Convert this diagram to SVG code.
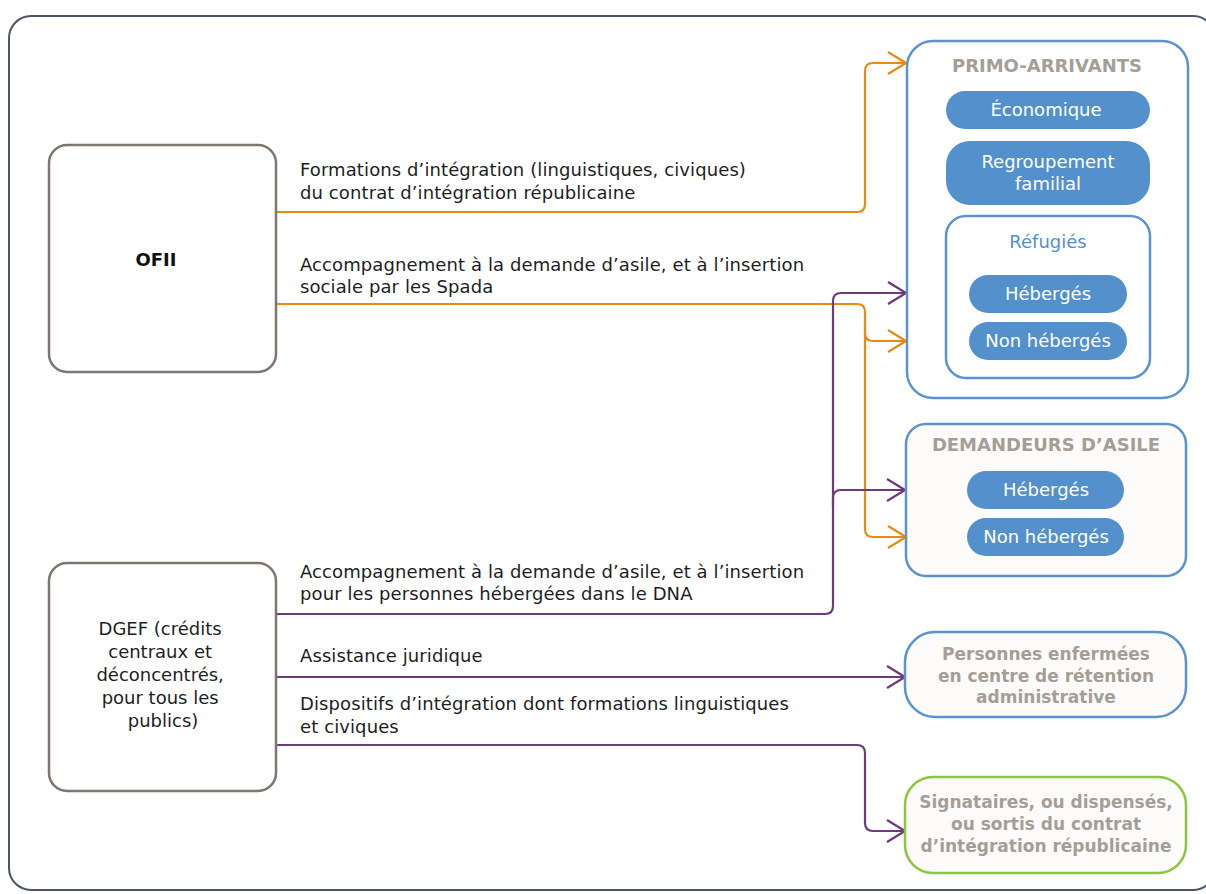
<svg xmlns="http://www.w3.org/2000/svg" width="1206" height="894" viewBox="0 0 1206 894">
<defs>
<style>
.lbl{font-family:"DejaVu Sans",sans-serif;font-size:18px;letter-spacing:0.1px;fill:#1e1e1e}
.src{fill:#fff;stroke:#7f776f;stroke-width:2.5}
.grp{fill:#fff;stroke:#5a93cf;stroke-width:2.5}
.ttl{font-family:"DejaVu Sans",sans-serif;font-size:18px;font-weight:700;fill:#a59e97;text-anchor:middle}
.ttl2{font-family:"DejaVu Sans",sans-serif;font-size:17px;font-weight:700;fill:#a59e97;text-anchor:middle}
.pill{fill:#5490cc}
.pt{font-family:"DejaVu Sans",sans-serif;font-size:18px;fill:#fff;text-anchor:middle}
.or{fill:none;stroke:#ea8a10;stroke-width:2.2}
.pu{fill:none;stroke:#6f3a7d;stroke-width:2.2}
</style>
<marker id="ao" viewBox="0 0 20 24" refX="19" refY="12" markerWidth="20" markerHeight="24" markerUnits="userSpaceOnUse" orient="auto"><path d="M1,1 L19,12 L1,23" fill="none" stroke="#ea8a10" stroke-width="2.2"/></marker>
<marker id="ap" viewBox="0 0 20 24" refX="19" refY="12" markerWidth="20" markerHeight="24" markerUnits="userSpaceOnUse" orient="auto"><path d="M1,1 L19,12 L1,23" fill="none" stroke="#6f3a7d" stroke-width="2.2"/></marker>
</defs>
<rect x="0" y="0" width="1206" height="894" fill="#fff"/>
<rect x="9" y="16" width="1206" height="874" rx="22" fill="none" stroke="#4b5563" stroke-width="2"/>

<g id="connectors">
<path class="or" d="M276,212 H857 Q865,212 865,204 V71 Q865,63 873,63 H906" marker-end="url(#ao)"/>
<path class="or" d="M276,304 H857 Q865,304 865,312 V529 Q865,537 873,537 H906" marker-end="url(#ao)"/>
<path class="or" d="M865,325 V333 Q865,341 873,341 H906" marker-end="url(#ao)"/>
<path class="pu" d="M276,614 H825 Q833,614 833,606 V301 Q833,293 841,293 H906" marker-end="url(#ap)"/>
<path class="pu" d="M833,506 V498 Q833,490 841,490 H905" marker-end="url(#ap)"/>
<path class="pu" d="M276,677 H905" marker-end="url(#ap)"/>
<path class="pu" d="M276,745 H857 Q865,745 865,753 V823 Q865,831 873,831 H905" marker-end="url(#ap)"/>
<text class="lbl" x="300" y="176">Formations d’intégration (linguistiques, civiques)</text>
<text class="lbl" x="300" y="199">du contrat d’intégration républicaine</text>
<text class="lbl" x="300" y="271">Accompagnement à la demande d’asile, et à l’insertion</text>
<text class="lbl" x="300" y="293">sociale par les Spada</text>
<text class="lbl" x="300" y="578">Accompagnement à la demande d’asile, et à l’insertion</text>
<text class="lbl" x="300" y="600">pour les personnes hébergées dans le DNA</text>
<text class="lbl" x="300" y="662">Assistance juridique</text>
<text class="lbl" x="300" y="710">Dispositifs d’intégration dont formations linguistiques</text>
<text class="lbl" x="300" y="733">et civiques</text>
</g>

<g id="ofii">
<rect class="src" x="49" y="145" width="227" height="227" rx="18"/>
<text x="156" y="266" style="font-family:'DejaVu Sans',sans-serif;font-size:18px;font-weight:700;fill:#111" text-anchor="middle">OFII</text>
</g>

<g id="dgef">
<rect class="src" x="49" y="563" width="227" height="228" rx="18"/>
<text style="font-family:'DejaVu Sans',sans-serif;font-size:18px;fill:#1e1e1e" text-anchor="middle">
<tspan x="163" y="635">DGEF (crédits</tspan>
<tspan x="163" y="658">centraux et</tspan>
<tspan x="163" y="681">déconcentrés,</tspan>
<tspan x="163" y="704">pour tous les</tspan>
<tspan x="163" y="727">publics)</tspan>
</text>
</g>

<g id="primo">
<rect class="grp" x="907" y="41" width="281" height="357" rx="26"/>
<text class="ttl" x="1047" y="72">PRIMO-ARRIVANTS</text>
</g>
<g id="economique">
<rect class="pill" x="946" y="91" width="204" height="38" rx="19"/>
<text class="pt" x="1046" y="116">Économique</text>
</g>
<g id="regroupement">
<rect class="pill" x="946" y="141" width="204" height="64" rx="24"/>
<text class="pt" x="1048" y="168">Regroupement</text>
<text class="pt" x="1048" y="190">familial</text>
</g>
<g id="refugies">
<rect class="grp" x="946" y="216" width="204" height="162" rx="20"/>
<text x="1048" y="248" style="font-family:'DejaVu Sans',sans-serif;font-size:18px;fill:#5490cc" text-anchor="middle">Réfugiés</text>
</g>
<g id="ref-heberges">
<rect class="pill" x="969" y="275" width="158" height="38" rx="19"/>
<text class="pt" x="1048" y="300">Hébergés</text>
</g>
<g id="ref-non-heberges">
<rect class="pill" x="969" y="322" width="158" height="38" rx="19"/>
<text class="pt" x="1048" y="347">Non hébergés</text>
</g>

<g id="demandeurs">
<rect class="grp" x="906" y="424" width="280" height="152" rx="20" style="fill:#fdfcfb"/>
<text class="ttl" x="1046" y="451">DEMANDEURS D’ASILE</text>
</g>
<g id="da-heberges">
<rect class="pill" x="967" y="471" width="157" height="38" rx="19"/>
<text class="pt" x="1046" y="496">Hébergés</text>
</g>
<g id="da-non-heberges">
<rect class="pill" x="967" y="518" width="157" height="38" rx="19"/>
<text class="pt" x="1046" y="543">Non hébergés</text>
</g>

<g id="retention">
<rect class="grp" x="905" y="632" width="281" height="85" rx="30" style="fill:#fdfcfb"/>
<text class="ttl2" x="1046" y="660">Personnes enfermées</text>
<text class="ttl2" x="1046" y="682">en centre de rétention</text>
<text class="ttl2" x="1046" y="703">administrative</text>
</g>

<g id="signataires">
<rect x="905" y="777" width="281" height="96" rx="28" style="fill:#fdfcfb;stroke:#8cc63f;stroke-width:2.5"/>
<text class="ttl2" x="1046" y="808">Signataires, ou dispensés,</text>
<text class="ttl2" x="1046" y="830">ou sortis du contrat</text>
<text class="ttl2" x="1046" y="852">d’intégration républicaine</text>
</g>
</svg>
